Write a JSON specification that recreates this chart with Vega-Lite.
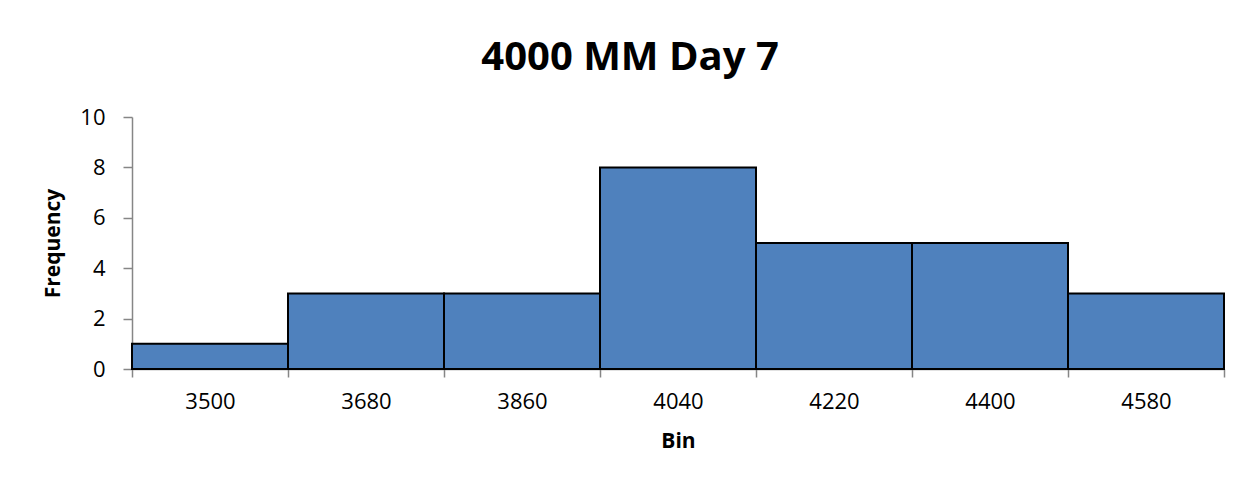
{
  "$schema": "https://vega.github.io/schema/vega-lite/v6.json",
  "width": 1092,
  "height": 252,
  "autosize": {"type": "none"},
  "padding": {"left": 132, "top": 117, "right": 30, "bottom": 122},
  "background": "white",
  "title": {
    "text": "4000 MM Day 7",
    "anchor": "middle",
    "frame": "group",
    "dx": -48,
    "offset": 28,
    "font": "Open Sans",
    "fontSize": 40,
    "fontWeight": "bold",
    "color": "black"
  },
  "data": {
    "values": [
      {"bin": "3500", "frequency": 1},
      {"bin": "3680", "frequency": 3},
      {"bin": "3860", "frequency": 3},
      {"bin": "4040", "frequency": 8},
      {"bin": "4220", "frequency": 5},
      {"bin": "4400", "frequency": 5},
      {"bin": "4580", "frequency": 3}
    ]
  },
  "mark": {"type": "bar", "fill": "#4F81BD", "stroke": "black", "strokeWidth": 2},
  "encoding": {
    "x": {
      "field": "bin",
      "type": "ordinal",
      "sort": null,
      "title": "Bin",
      "scale": {"paddingInner": 0, "paddingOuter": 0},
      "axis": {
        "labelAngle": 0,
        "tickBand": "extent",
        "tickSize": 8,
        "labelPadding": 14,
        "titlePadding": 18
      }
    },
    "y": {
      "field": "frequency",
      "type": "quantitative",
      "title": "Frequency",
      "scale": {"domain": [0, 10], "nice": false},
      "axis": {
        "values": [0, 2, 4, 6, 8, 10],
        "grid": false,
        "tickSize": 9,
        "labelPadding": 18,
        "titlePadding": 16
      }
    }
  },
  "config": {
    "view": {"stroke": null},
    "axis": {
      "domainColor": "#868686",
      "domainWidth": 1.5,
      "tickColor": "#868686",
      "tickWidth": 1.5,
      "labelFont": "Open Sans",
      "labelFontSize": 22,
      "labelColor": "black",
      "titleFont": "Open Sans",
      "titleFontSize": 21,
      "titleFontWeight": "bold",
      "titleColor": "black"
    }
  }
}
